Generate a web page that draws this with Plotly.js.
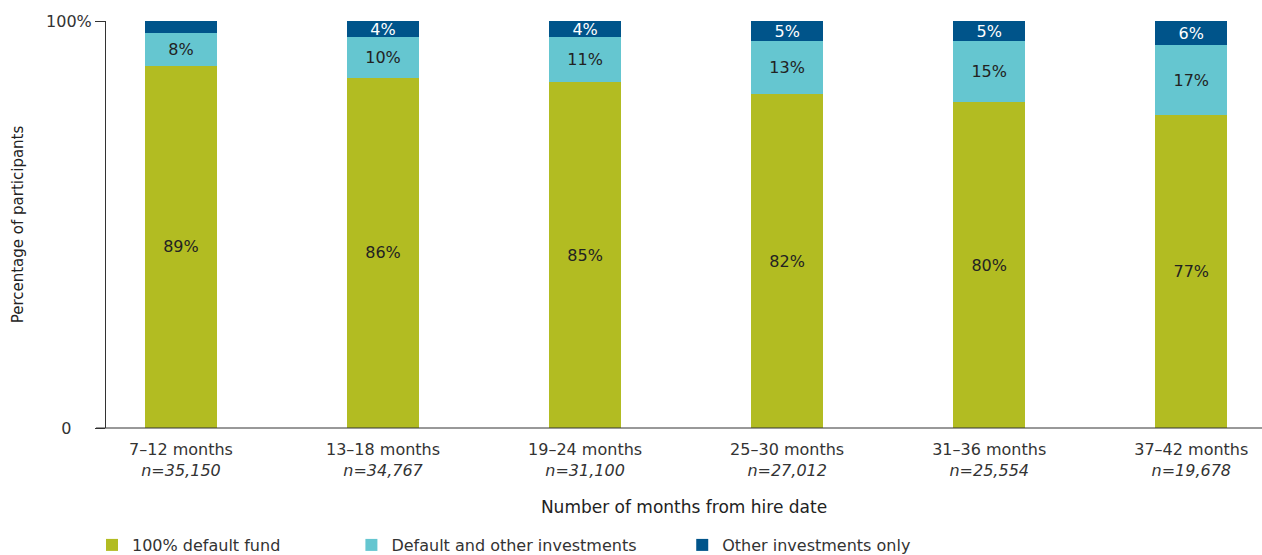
<!DOCTYPE html>
<html>
<head>
<meta charset="utf-8">
<script src="https://cdn.plot.ly/plotly-3.0.1.min.js"></script>
<style>
  body { margin: 0; background: #fff; }
  #grafica { width: 1262px; height: 555px; }
</style>
</head>
<body>
<div id="grafica"></div>
<script>
const periodos = ['7–12 months', '13–18 months', '19–24 months', '25–30 months', '31–36 months', '37–42 months'];
const participantes = ['35,150', '34,767', '31,100', '27,012', '25,554', '19,678'];
const fondoDefault = [89, 86, 85, 82, 80, 77];
const defaultYOtras = [8, 10, 11, 13, 15, 17];
const soloOtras = [3, 4, 4, 5, 5, 6];
const etiquetasSoloOtras = ['', '4%', '4%', '5%', '5%', '6%'];

const FUENTE = '"DejaVu Sans", Verdana, sans-serif';
const posiciones = periodos.map((p, i) => i);
const textoEjeX = periodos.map((p, i) => p + '<br><i>n=' + participantes[i] + '</i>');
// espacios duros para separar las entradas de la leyenda como en el original
const relleno = n => '\u00a0'.repeat(n);

function serie(nombre, valores, color, textos, colorTexto) {
    return {
        type: 'bar',
        name: nombre,
        x: posiciones,
        y: valores,
        width: 0.356,
        marker: {color: color, line: {width: 0}},
        text: textos,
        textposition: 'inside',
        insidetextanchor: 'middle',
        textangle: 0,
        textfont: {family: FUENTE, size: 16, color: colorTexto},
        hoverinfo: 'skip'
    };
}

const datos = [
    serie('100% default fund' + relleno(13), fondoDefault, '#b2bc22', fondoDefault.map(v => v + '%'), '#222'),
    serie('Default and other investments' + relleno(8), defaultYOtras, '#65c6d0', defaultYOtras.map(v => v + '%'), '#222'),
    serie('Other investments only', soloOtras, '#00548a', etiquetasSoloOtras, '#fff')
];

const layout = {
    width: 1262,
    height: 555,
    barmode: 'stack',
    margin: {l: 106, r: 0, t: 21, b: 127},
    paper_bgcolor: '#fff',
    plot_bgcolor: '#fff',
    font: {family: FUENTE, size: 16, color: '#333'},
    uniformtext: {mode: 'show', minsize: 16},
    showlegend: true,
    legend: {
        orientation: 'h',
        xref: 'container', yref: 'container',
        x: 92 / 1262, xanchor: 'left',
        y: 10 / 555, yanchor: 'middle',
        font: {family: FUENTE, size: 16, color: '#333'},
        traceorder: 'normal'
    },
    xaxis: {
        range: [-0.371, 5.35],
        automargin: false,
        tickvals: posiciones,
        ticktext: textoEjeX,
        ticks: '',
        ticklabelstandoff: 10,
        showline: false,
        showgrid: false,
        zeroline: false,
        tickfont: {family: FUENTE, size: 16, color: '#333'},
        title: {text: 'Number of months from hire date', standoff: 22,
                font: {family: FUENTE, size: 17, color: '#222'}}
    },
    yaxis: {
        range: [0, 100],
        automargin: false,
        tickvals: [0, 100],
        ticktext: ['0\u00a0\u00a0\u00a0\u00a0', '100%'],
        ticks: 'outside',
        ticklen: 10,
        tickcolor: '#333',
        showline: true,
        linecolor: '#333',
        linewidth: 1,
        showgrid: false,
        zeroline: false,
        tickfont: {family: FUENTE, size: 16, color: '#333'},
        title: {text: 'Percentage of participants', standoff: 18,
                font: {family: FUENTE, size: 15, color: '#222'}}
    },
    shapes: [{
        type: 'line', xref: 'paper', yref: 'paper',
        x0: -10 / 1156, x1: 1, y0: 0, y1: 0,
        line: {color: '#333', width: 1}
    }]
};

Plotly.newPlot(document.getElementById('grafica'), datos, layout, {displayModeBar: false, staticPlot: true});
</script>
</body>
</html>
